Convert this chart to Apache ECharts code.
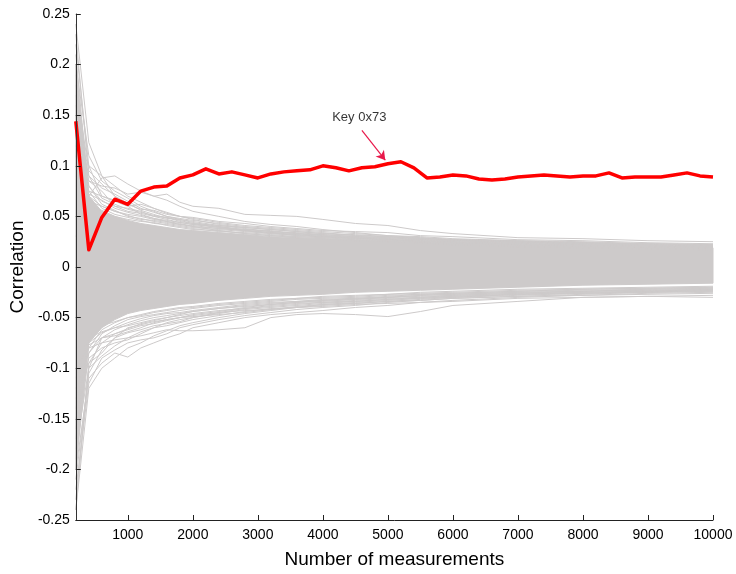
<!DOCTYPE html>
<html>
<head>
<meta charset="utf-8">
<title>Correlation vs number of measurements</title>
<script src="https://cdn.jsdelivr.net/npm/echarts@6/dist/echarts.min.js"></script>
<style>
  html, body { margin: 0; padding: 0; background: #ffffff; }
  #chart { width: 736px; height: 574px; }
</style>
</head>
<body>
<div id="chart"></div>
<script>
// Measurement counts at which the correct key's correlation was evaluated
const keyX = [200, 400, 600, 800, 1000, 1200, 1400, 1600, 1800, 2000,
  2200, 2400, 2600, 2800, 3000, 3200, 3400, 3600, 3800, 4000,
  4200, 4400, 4600, 4800, 5000, 5200, 5400, 5600, 5800, 6000,
  6200, 6400, 6600, 6800, 7000, 7200, 7400, 7600, 7800, 8000,
  8200, 8400, 8600, 8800, 9000, 9200, 9400, 9600, 9800, 10000];

// Correlation of the correct key guess (0x73)
const keyCorr = [0.144, 0.017, 0.049, 0.067, 0.062, 0.075, 0.079, 0.080, 0.088, 0.091,
  0.097, 0.092, 0.094, 0.091, 0.088, 0.092, 0.094, 0.095, 0.096, 0.100,
  0.098, 0.095, 0.098, 0.099, 0.102, 0.104, 0.098, 0.088, 0.089, 0.091,
  0.090, 0.087, 0.086, 0.087, 0.089, 0.090, 0.091, 0.090, 0.089, 0.090,
  0.090, 0.093, 0.088, 0.089, 0.089, 0.089, 0.091, 0.093, 0.090, 0.089];

// Measurement counts used for the wrong-key traces
const wrongX = [200, 400, 600, 800, 1000, 1200, 1400, 1600, 1800, 2000,
  2400, 2800, 3200, 3600, 4000, 4500, 5000, 5500, 6000, 7000, 8000, 9000, 10000];

// Dense bundle of wrong-key correlations: lower and upper edge
const bundleLow = [-0.20, -0.075, -0.060, -0.052, -0.046, -0.043, -0.041, -0.039, -0.037, -0.036,
  -0.033, -0.031, -0.029, -0.028, -0.027, -0.025, -0.024, -0.023, -0.022, -0.020, -0.018, -0.017, -0.016];
const bundleHigh = [0.20, 0.070, 0.055, 0.050, 0.046, 0.043, 0.041, 0.039, 0.037, 0.036,
  0.034, 0.032, 0.030, 0.029, 0.028, 0.027, 0.026, 0.025, 0.024, 0.022, 0.021, 0.020, 0.019];

// Individual wrong-key traces around and outside the bundle
const wrongTraces = [
  [0.24, 0.123, 0.090, 0.070, 0.060, 0.052, 0.048, 0.045, 0.042, 0.040, 0.036, 0.033, 0.031, 0.029, 0.028, 0.026, 0.025, 0.024, 0.022, 0.020, 0.019, 0.018, 0.017],
  [0.20, 0.110, 0.085, 0.075, 0.068, 0.060, 0.055, 0.050, 0.047, 0.044, 0.040, 0.036, 0.034, 0.032, 0.030, 0.028, 0.027, 0.025, 0.024, 0.022, 0.021, 0.020, 0.019],
  [0.03, 0.070, 0.088, 0.090, 0.082, 0.075, 0.070, 0.066, 0.060, 0.055, 0.050, 0.045, 0.042, 0.040, 0.037, 0.034, 0.031, 0.030, 0.028, 0.026, 0.024, 0.022, 0.021],
  [0.10, 0.085, 0.080, 0.078, 0.072, 0.074, 0.070, 0.072, 0.064, 0.060, 0.058, 0.052, 0.051, 0.050, 0.047, 0.043, 0.041, 0.036, 0.033, 0.029, 0.028, 0.026, 0.025],
  [0.15, 0.090, 0.078, 0.072, 0.065, 0.058, 0.054, 0.050, 0.048, 0.046, 0.043, 0.040, 0.038, 0.036, 0.034, 0.031, 0.030, 0.029, 0.027, 0.025, 0.023, 0.022, 0.021],
  [0.22, 0.100, 0.070, 0.065, 0.060, 0.062, 0.058, 0.053, 0.050, 0.048, 0.044, 0.041, 0.039, 0.037, 0.035, 0.033, 0.031, 0.029, 0.027, 0.025, 0.024, 0.023, 0.022],
  [0.18, 0.095, 0.082, 0.070, 0.063, 0.056, 0.052, 0.048, 0.047, 0.045, 0.041, 0.038, 0.035, 0.034, 0.032, 0.030, 0.028, 0.027, 0.026, 0.024, 0.023, 0.021, 0.020],
  [0.12, 0.080, 0.065, 0.060, 0.058, 0.055, 0.050, 0.047, 0.044, 0.042, 0.040, 0.037, 0.036, 0.033, 0.031, 0.029, 0.027, 0.026, 0.025, 0.023, 0.022, 0.021, 0.020],
  [0.13, 0.100, 0.090, 0.080, 0.070, 0.064, 0.058, 0.054, 0.050, 0.047, 0.042, 0.039, 0.037, 0.035, 0.033, 0.032, 0.030, 0.028, 0.027, 0.026, 0.025, 0.023, 0.022],
  [0.09, 0.075, 0.070, 0.066, 0.062, 0.057, 0.056, 0.052, 0.050, 0.049, 0.045, 0.043, 0.040, 0.038, 0.036, 0.035, 0.034, 0.031, 0.030, 0.027, 0.026, 0.024, 0.023],
  [0.21, 0.070, 0.060, 0.055, 0.052, 0.050, 0.047, 0.045, 0.043, 0.040, 0.038, 0.036, 0.033, 0.032, 0.030, 0.028, 0.027, 0.025, 0.024, 0.022, 0.021, 0.020, 0.019],
  [0.16, 0.085, 0.075, 0.060, 0.055, 0.053, 0.050, 0.049, 0.046, 0.043, 0.039, 0.036, 0.034, 0.031, 0.030, 0.029, 0.027, 0.026, 0.025, 0.023, 0.022, 0.020, 0.019],
  [0.19, 0.080, 0.062, 0.056, 0.050, 0.048, 0.045, 0.043, 0.041, 0.039, 0.037, 0.035, 0.033, 0.031, 0.030, 0.029, 0.028, 0.027, 0.026, 0.024, 0.023, 0.022, 0.021],
  [0.14, 0.075, 0.058, 0.052, 0.049, 0.046, 0.043, 0.042, 0.040, 0.038, 0.035, 0.034, 0.032, 0.030, 0.029, 0.028, 0.027, 0.026, 0.025, 0.023, 0.022, 0.021, 0.020],
  [0.11, 0.065, 0.060, 0.055, 0.051, 0.047, 0.046, 0.044, 0.042, 0.041, 0.038, 0.036, 0.034, 0.033, 0.032, 0.030, 0.029, 0.028, 0.027, 0.025, 0.024, 0.022, 0.021],
  [0.08, 0.072, 0.066, 0.058, 0.054, 0.051, 0.048, 0.046, 0.044, 0.042, 0.039, 0.037, 0.035, 0.033, 0.031, 0.030, 0.029, 0.027, 0.026, 0.024, 0.023, 0.021, 0.020],
  [0.17, 0.060, 0.056, 0.050, 0.047, 0.045, 0.044, 0.041, 0.039, 0.037, 0.036, 0.033, 0.031, 0.030, 0.029, 0.027, 0.026, 0.025, 0.024, 0.023, 0.021, 0.020, 0.019],
  [0.23, 0.090, 0.068, 0.062, 0.057, 0.054, 0.051, 0.049, 0.045, 0.043, 0.041, 0.039, 0.037, 0.035, 0.033, 0.031, 0.030, 0.028, 0.027, 0.025, 0.024, 0.023, 0.022],
  [-0.20, -0.110, -0.095, -0.085, -0.089, -0.080, -0.075, -0.070, -0.066, -0.060, -0.055, -0.050, -0.047, -0.045, -0.043, -0.040, -0.038, -0.035, -0.033, -0.030, -0.028, -0.026, -0.025],
  [-0.10, -0.080, -0.075, -0.072, -0.070, -0.068, -0.065, -0.062, -0.063, -0.063, -0.062, -0.060, -0.050, -0.047, -0.046, -0.047, -0.049, -0.044, -0.038, -0.034, -0.030, -0.029, -0.028],
  [-0.24, -0.120, -0.100, -0.090, -0.080, -0.075, -0.068, -0.063, -0.058, -0.055, -0.050, -0.046, -0.043, -0.040, -0.038, -0.036, -0.034, -0.032, -0.030, -0.027, -0.025, -0.024, -0.022],
  [-0.22, -0.115, -0.090, -0.082, -0.075, -0.072, -0.070, -0.066, -0.060, -0.057, -0.052, -0.048, -0.045, -0.042, -0.040, -0.038, -0.035, -0.033, -0.031, -0.029, -0.027, -0.025, -0.024],
  [-0.18, -0.100, -0.088, -0.078, -0.070, -0.064, -0.060, -0.058, -0.055, -0.052, -0.048, -0.044, -0.041, -0.040, -0.037, -0.035, -0.033, -0.031, -0.030, -0.028, -0.026, -0.025, -0.023],
  [-0.15, -0.090, -0.080, -0.075, -0.072, -0.066, -0.060, -0.055, -0.052, -0.050, -0.046, -0.042, -0.040, -0.038, -0.036, -0.034, -0.032, -0.030, -0.028, -0.026, -0.024, -0.023, -0.022],
  [-0.13, -0.095, -0.085, -0.070, -0.065, -0.062, -0.058, -0.056, -0.054, -0.050, -0.045, -0.041, -0.038, -0.036, -0.035, -0.033, -0.031, -0.030, -0.029, -0.027, -0.026, -0.024, -0.023],
  [-0.12, -0.085, -0.070, -0.068, -0.064, -0.060, -0.055, -0.052, -0.050, -0.047, -0.044, -0.040, -0.037, -0.035, -0.034, -0.032, -0.030, -0.028, -0.027, -0.025, -0.024, -0.022, -0.021],
  [-0.21, -0.105, -0.082, -0.070, -0.060, -0.057, -0.054, -0.052, -0.050, -0.048, -0.045, -0.043, -0.042, -0.040, -0.039, -0.037, -0.036, -0.035, -0.034, -0.031, -0.030, -0.029, -0.030],
  [-0.16, -0.075, -0.065, -0.060, -0.058, -0.055, -0.052, -0.050, -0.047, -0.044, -0.041, -0.038, -0.036, -0.034, -0.032, -0.031, -0.029, -0.027, -0.026, -0.024, -0.022, -0.021, -0.020],
  [-0.23, -0.100, -0.070, -0.066, -0.062, -0.058, -0.056, -0.053, -0.050, -0.049, -0.047, -0.045, -0.042, -0.039, -0.037, -0.036, -0.034, -0.033, -0.031, -0.029, -0.028, -0.027, -0.026],
  [-0.19, -0.085, -0.066, -0.058, -0.052, -0.049, -0.047, -0.045, -0.043, -0.041, -0.038, -0.036, -0.034, -0.032, -0.031, -0.030, -0.028, -0.027, -0.026, -0.024, -0.023, -0.022, -0.021],
  [-0.14, -0.080, -0.062, -0.055, -0.050, -0.047, -0.044, -0.042, -0.040, -0.039, -0.036, -0.034, -0.032, -0.031, -0.029, -0.028, -0.027, -0.025, -0.024, -0.022, -0.021, -0.020, -0.019],
  [-0.11, -0.070, -0.064, -0.060, -0.055, -0.051, -0.048, -0.046, -0.045, -0.043, -0.040, -0.037, -0.035, -0.034, -0.033, -0.031, -0.030, -0.028, -0.027, -0.025, -0.024, -0.023, -0.022],
  [-0.08, -0.077, -0.070, -0.062, -0.057, -0.053, -0.050, -0.048, -0.046, -0.044, -0.041, -0.039, -0.037, -0.035, -0.033, -0.032, -0.030, -0.029, -0.028, -0.026, -0.025, -0.024, -0.023],
  [-0.17, -0.068, -0.058, -0.054, -0.050, -0.048, -0.045, -0.043, -0.041, -0.040, -0.037, -0.035, -0.033, -0.031, -0.030, -0.029, -0.027, -0.026, -0.025, -0.023, -0.022, -0.021, -0.020],
  [-0.24, -0.095, -0.075, -0.066, -0.061, -0.056, -0.053, -0.050, -0.048, -0.046, -0.043, -0.041, -0.039, -0.037, -0.035, -0.034, -0.032, -0.031, -0.029, -0.027, -0.026, -0.025, -0.024]
];

// Annotation pointing at the correct key's trace
const keyLabel = 'Key 0x73';
const labelAt = [4560, 0.148];
const arrowFrom = [4600, 0.135];
const arrowTo = [4960, 0.1055];

const GREY = '#cdcaca';
const FONT = 'Liberation Sans, Arial, Helvetica, sans-serif';

const pairs = (xs, ys) => xs.map((x, i) => [x, ys[i]]);

const series = [];

// Dense bundle: one polygon following the upper edge and back along the lower edge
series.push({
  type: 'custom', name: 'bundle',
  data: [0],
  silent: true, z: 1, clip: true,
  renderItem: function (params, api) {
    const upper = wrongX.map((x, i) => api.coord([x, bundleHigh[i]]));
    const lower = wrongX.map((x, i) => api.coord([x, bundleLow[i]])).reverse();
    return {
      type: 'polygon',
      shape: { points: upper.concat(lower) },
      style: { fill: GREY, stroke: GREY, lineWidth: 1 }
    };
  }
});

wrongTraces.forEach((ys, k) => {
  series.push({
    type: 'line', name: 'wrong-' + k,
    data: pairs(wrongX, ys),
    symbol: 'none', silent: true, z: 2,
    lineStyle: { color: GREY, width: 1 }
  });
});

series.push({
  type: 'line', name: keyLabel,
  data: pairs(keyX, keyCorr),
  symbol: 'none', silent: true, z: 5,
  lineStyle: { color: '#ff0000', width: 3.5, join: 'round' },
  markLine: {
    silent: true,
    symbol: ['none', 'arrow'],
    symbolSize: [8, 9],
    label: { show: false },
    lineStyle: { color: '#e8194b', width: 1.2, type: 'solid' },
    data: [[{ coord: arrowFrom }, { coord: arrowTo }]]
  }
});

series.push({
  type: 'scatter', name: 'annotation',
  data: [labelAt],
  symbolSize: 0, silent: true, z: 6,
  label: {
    show: true, position: 'inside', formatter: keyLabel,
    color: '#000', fontSize: 13, fontFamily: FONT
  }
});

const chart = echarts.init(document.getElementById('chart'), null, { renderer: 'canvas' });
chart.setOption({
  animation: false,
  backgroundColor: '#ffffff',
  grid: { left: 68, right: 23, top: 14, bottom: 51, containLabel: false },
  xAxis: {
    type: 'value', min: 200, max: 10000, splitNumber: 10,
    name: 'Number of measurements', nameLocation: 'middle', nameGap: 30,
    nameTextStyle: { fontSize: 19, color: '#000', fontFamily: FONT },
    axisLine: { show: true, onZero: false, lineStyle: { color: '#222', width: 1 } },
    axisTick: { show: true, inside: true, length: 5, lineStyle: { color: '#222' } },
    axisLabel: {
      showMinLabel: false, margin: 8, fontSize: 14, color: '#000', fontFamily: FONT,
      formatter: function (v) { return String(v); }
    },
    splitLine: { show: false },
    z: 10
  },
  yAxis: {
    type: 'value', min: -0.25, max: 0.25, interval: 0.05,
    name: 'Correlation', nameLocation: 'middle', nameGap: 40,
    nameTextStyle: { fontSize: 19, color: '#000', fontFamily: FONT },
    axisLine: { show: true, onZero: false, lineStyle: { color: '#333', width: 1 } },
    axisTick: { show: true, inside: true, length: 5, lineStyle: { color: '#222' } },
    axisLabel: { margin: 6, fontSize: 14, color: '#000', fontFamily: FONT },
    splitLine: { show: false },
    z: 10
  },
  series: series
});
</script>
</body>
</html>
